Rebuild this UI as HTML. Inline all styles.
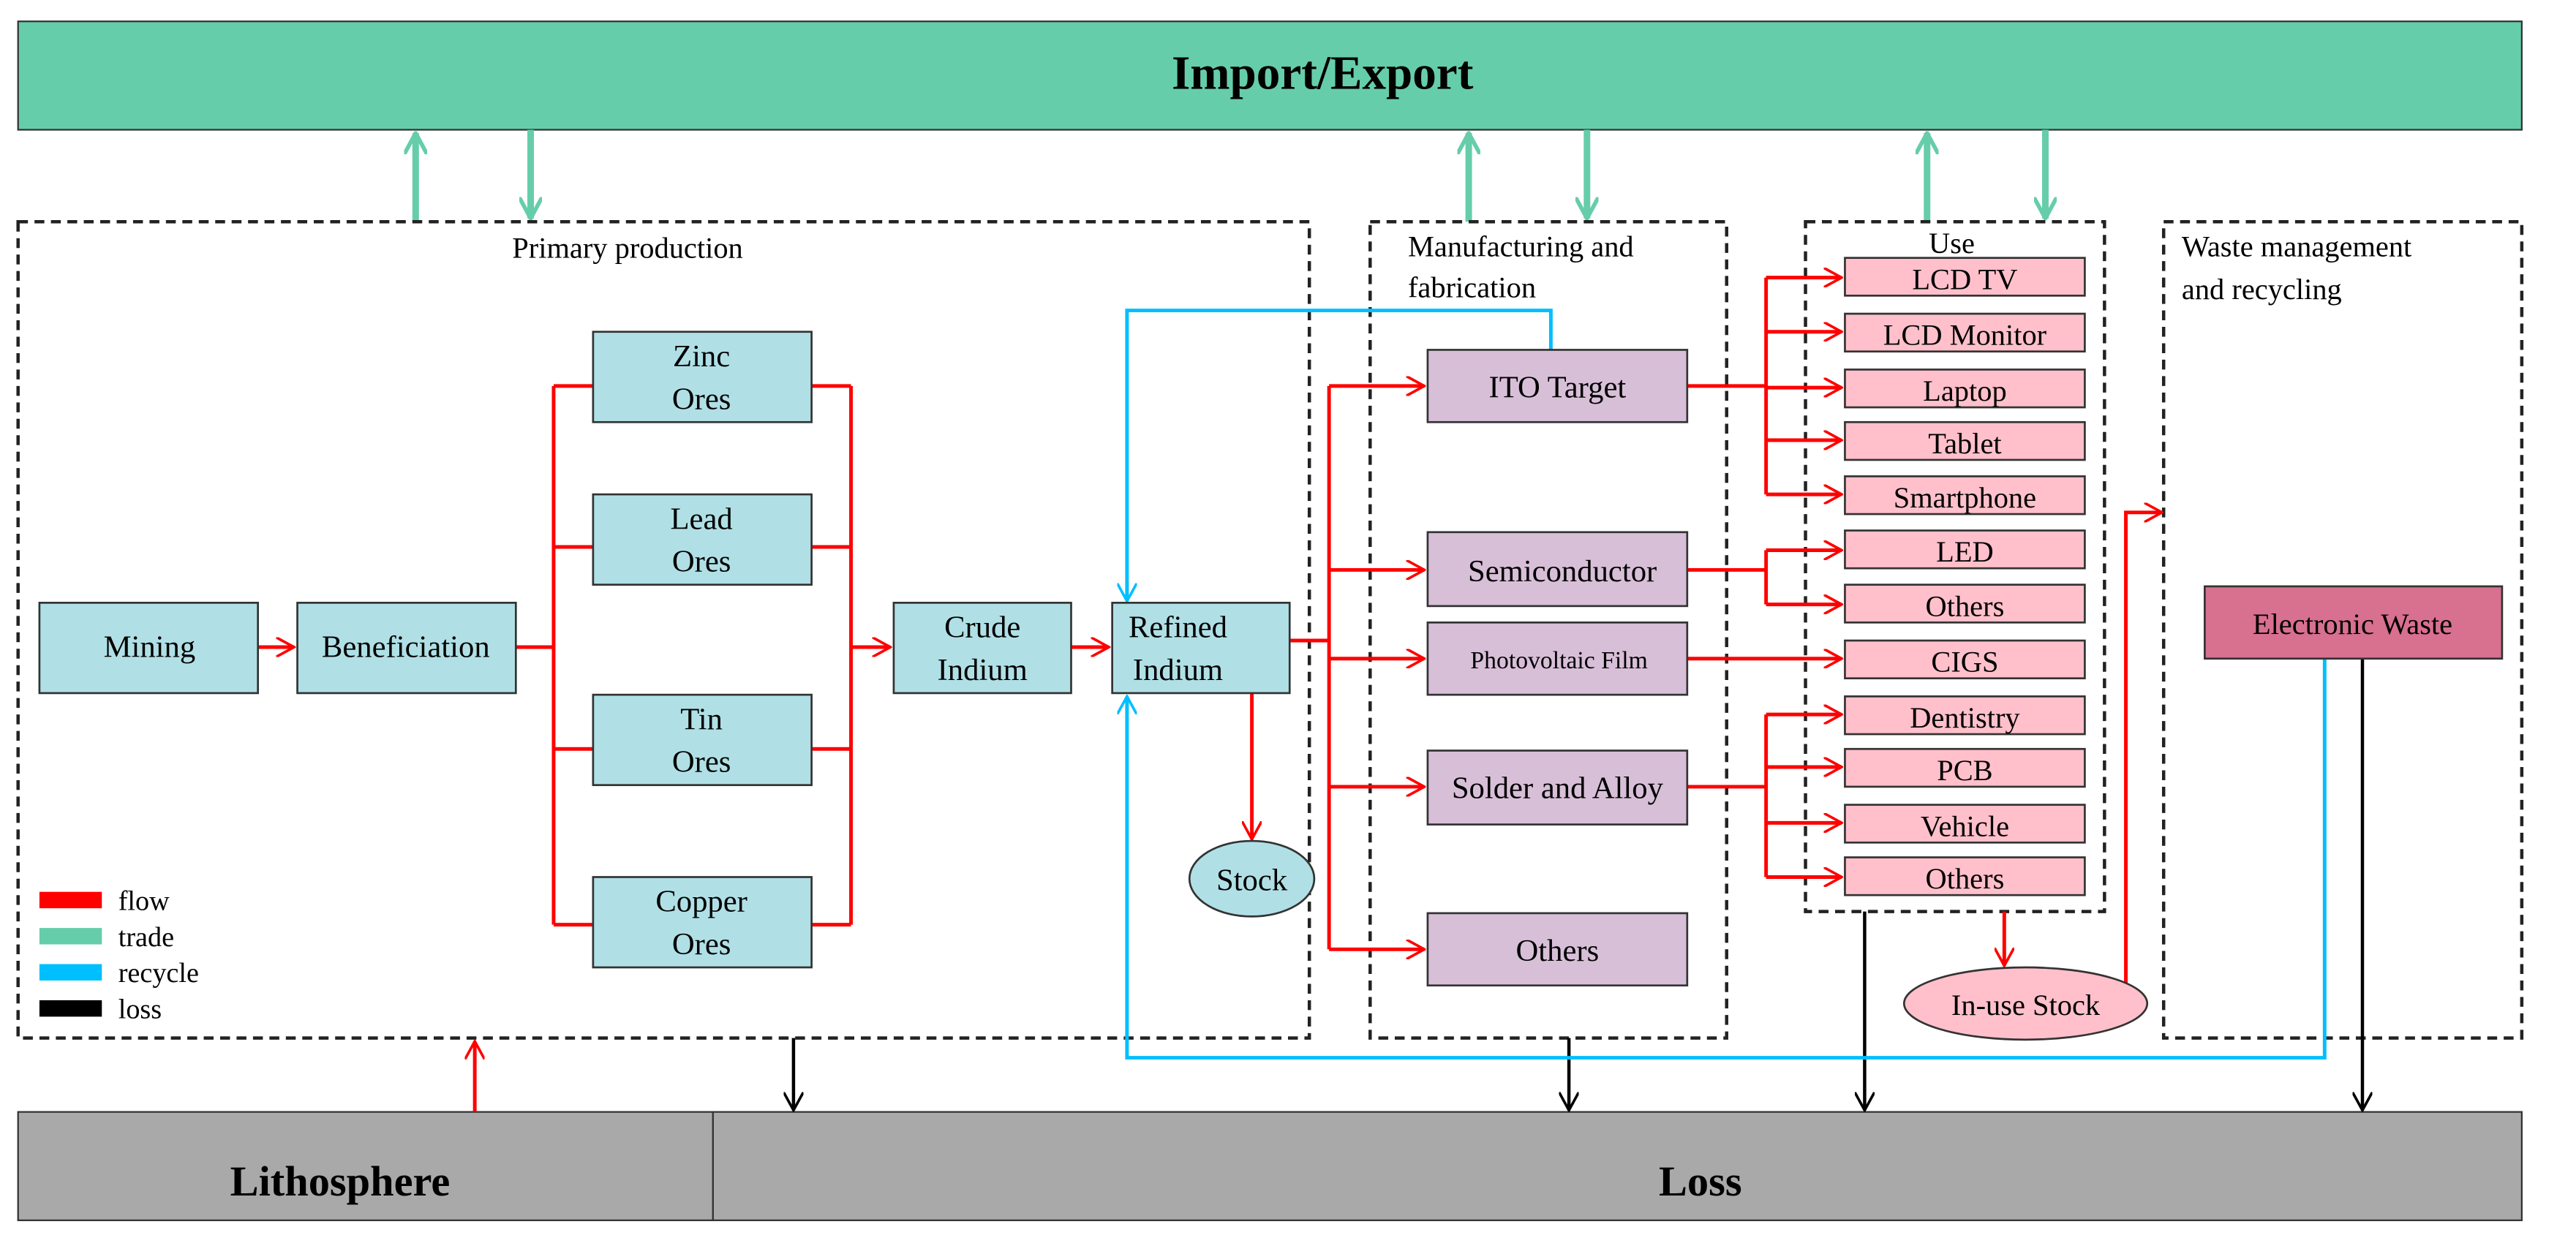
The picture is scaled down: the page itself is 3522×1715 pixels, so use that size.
<!DOCTYPE html>
<html><head><meta charset="utf-8"><style>
html,body{margin:0;padding:0;background:#fff;}
svg{display:block;}
text{font-family:"Liberation Serif",serif;}
</style></head><body>
<svg width="3522" height="1715" viewBox="0 0 1568 763.5" xmlns="http://www.w3.org/2000/svg">
<defs>
<marker id="r" markerWidth="12" markerHeight="12" refX="11" refY="6" orient="auto" markerUnits="userSpaceOnUse"><path d="M0,0 L11,6 L0,12" fill="none" stroke="#f00" stroke-width="1.6"/></marker>
<marker id="k" markerWidth="12" markerHeight="12" refX="11" refY="6" orient="auto" markerUnits="userSpaceOnUse"><path d="M0,0 L11,6 L0,12" fill="none" stroke="#000" stroke-width="1.6"/></marker>
<marker id="b" markerWidth="12" markerHeight="12" refX="11" refY="6" orient="auto" markerUnits="userSpaceOnUse"><path d="M0,0 L11,6 L0,12" fill="none" stroke="#00bfff" stroke-width="1.6"/></marker>
<marker id="g" markerWidth="14" markerHeight="14" refX="13" refY="7" orient="auto" markerUnits="userSpaceOnUse"><path d="M0,0 L13,7 L0,14" fill="none" stroke="#66cdaa" stroke-width="2.5"/></marker>
</defs>
<rect width="1568" height="764" fill="#fff"/>
<!-- Import/Export -->
<rect x="11" y="13" width="1524" height="66" fill="#66cdaa" stroke="#333" stroke-width="1"/>
<text x="805" y="54" font-size="29" font-weight="bold" text-anchor="middle">Import/Export</text>
<!-- trade arrows -->
<g stroke="#66cdaa" stroke-width="4" fill="none">
<line x1="253" y1="135" x2="253" y2="81" marker-end="url(#g)"/>
<line x1="894" y1="135" x2="894" y2="81" marker-end="url(#g)"/>
<line x1="1173" y1="135" x2="1173" y2="81" marker-end="url(#g)"/>
<line x1="323" y1="79" x2="323" y2="133" marker-end="url(#g)"/>
<line x1="966" y1="79" x2="966" y2="133" marker-end="url(#g)"/>
<line x1="1245" y1="79" x2="1245" y2="133" marker-end="url(#g)"/>
</g>
<!-- dashed boxes -->
<g fill="none" stroke="#222" stroke-width="2" stroke-dasharray="6,4">
<rect x="11" y="135" width="786" height="497"/>
<rect x="834" y="135" width="217" height="497"/>
<rect x="1099" y="135" width="182" height="420"/>
<rect x="1317" y="135" width="218" height="497"/>
</g>
<g font-size="18">
<text x="382" y="157" text-anchor="middle">Primary production</text>
<text x="857" y="156">Manufacturing and</text>
<text x="857" y="181">fabrication</text>
<text x="1188" y="154" text-anchor="middle">Use</text>
<text x="1328" y="156">Waste management</text>
<text x="1328" y="182">and recycling</text>
</g>
<!-- bottom bars -->
<rect x="11" y="677" width="423" height="66" fill="#a9a9a9" stroke="#333"/>
<rect x="434" y="677" width="1101" height="66" fill="#a9a9a9" stroke="#333"/>
<text x="207" y="728" font-size="26" font-weight="bold" text-anchor="middle">Lithosphere</text>
<text x="1035" y="728" font-size="26" font-weight="bold" text-anchor="middle">Loss</text>
<!-- red flows -->
<g stroke="#f00" stroke-width="2.2" fill="none">
<line x1="157" y1="394" x2="179" y2="394" marker-end="url(#r)"/>
<polyline points="314,394 337,394"/>
<line x1="337" y1="235" x2="337" y2="563"/>
<polyline points="337,235 361,235"/><polyline points="337,333 361,333"/><polyline points="337,456 361,456"/><polyline points="337,563 361,563"/>
<line x1="518" y1="235" x2="518" y2="563"/>
<polyline points="494,235 518,235"/><polyline points="494,333 518,333"/><polyline points="494,456 518,456"/><polyline points="494,563 518,563"/>
<line x1="518" y1="394" x2="542" y2="394" marker-end="url(#r)"/>
<line x1="652" y1="394" x2="675" y2="394" marker-end="url(#r)"/>
<polyline points="785,390 809,390"/>
<line x1="809" y1="235" x2="809" y2="578"/>
<line x1="809" y1="235" x2="867" y2="235" marker-end="url(#r)"/>
<line x1="809" y1="347" x2="867" y2="347" marker-end="url(#r)"/>
<line x1="809" y1="401" x2="867" y2="401" marker-end="url(#r)"/>
<line x1="809" y1="479" x2="867" y2="479" marker-end="url(#r)"/>
<line x1="809" y1="578" x2="867" y2="578" marker-end="url(#r)"/>
<line x1="762" y1="422" x2="762" y2="511" marker-end="url(#r)"/>
<polyline points="1027,235 1075,235"/>
<line x1="1075" y1="169" x2="1075" y2="301"/>
<line x1="1075" y1="169" x2="1121" y2="169" marker-end="url(#r)"/>
<line x1="1075" y1="202" x2="1121" y2="202" marker-end="url(#r)"/>
<line x1="1075" y1="236" x2="1121" y2="236" marker-end="url(#r)"/>
<line x1="1075" y1="268" x2="1121" y2="268" marker-end="url(#r)"/>
<line x1="1075" y1="301" x2="1121" y2="301" marker-end="url(#r)"/>
<polyline points="1027,347 1075,347"/>
<line x1="1075" y1="335" x2="1075" y2="368"/>
<line x1="1075" y1="335" x2="1121" y2="335" marker-end="url(#r)"/>
<line x1="1075" y1="368" x2="1121" y2="368" marker-end="url(#r)"/>
<line x1="1027" y1="401" x2="1121" y2="401" marker-end="url(#r)"/>
<polyline points="1027,479 1075,479"/>
<line x1="1075" y1="435" x2="1075" y2="534"/>
<line x1="1075" y1="435" x2="1121" y2="435" marker-end="url(#r)"/>
<line x1="1075" y1="467" x2="1121" y2="467" marker-end="url(#r)"/>
<line x1="1075" y1="501" x2="1121" y2="501" marker-end="url(#r)"/>
<line x1="1075" y1="534" x2="1121" y2="534" marker-end="url(#r)"/>
<line x1="1220" y1="555" x2="1220" y2="588" marker-end="url(#r)"/>
<polyline points="1294,600 1294,312 1316,312" marker-end="url(#r)"/>
<line x1="289" y1="677" x2="289" y2="634" marker-end="url(#r)"/>
</g>
<!-- black loss -->
<g stroke="#000" stroke-width="2" fill="none">
<line x1="483" y1="632" x2="483" y2="676" marker-end="url(#k)"/>
<line x1="955" y1="632" x2="955" y2="676" marker-end="url(#k)"/>
<line x1="1135" y1="555" x2="1135" y2="676" marker-end="url(#k)"/>
<line x1="1438" y1="401" x2="1438" y2="676" marker-end="url(#k)"/>
</g>
<!-- blue recycle -->
<g stroke="#00bfff" stroke-width="2.2" fill="none">
<polyline points="944,213 944,189 686,189 686,366" marker-end="url(#b)"/>
<polyline points="1415,401 1415,644 686,644 686,424" marker-end="url(#b)"/>
</g>
<!-- teal nodes -->
<g fill="#b0e0e6" stroke="#333" stroke-width="1.2">
<rect x="24" y="367" width="133" height="55"/>
<rect x="181" y="367" width="133" height="55"/>
<rect x="361" y="202" width="133" height="55"/>
<rect x="361" y="301" width="133" height="55"/>
<rect x="361" y="423" width="133" height="55"/>
<rect x="361" y="534" width="133" height="55"/>
<rect x="544" y="367" width="108" height="55"/>
<rect x="677" y="367" width="108" height="55"/>
<ellipse cx="762" cy="535" rx="38" ry="23"/>
</g>
<g font-size="19" text-anchor="middle">
<text x="91" y="400">Mining</text>
<text x="247" y="400">Beneficiation</text>
<text x="427" y="223">Zinc</text><text x="427" y="249">Ores</text>
<text x="427" y="322">Lead</text><text x="427" y="348">Ores</text>
<text x="427" y="444">Tin</text><text x="427" y="470">Ores</text>
<text x="427" y="555">Copper</text><text x="427" y="581">Ores</text>
<text x="598" y="388">Crude</text><text x="598" y="414">Indium</text>
<text x="717" y="388">Refined</text><text x="717" y="414">Indium</text>
<text x="762" y="542">Stock</text>
</g>
<!-- manufacturing nodes -->
<g fill="#d8bfd8" stroke="#333" stroke-width="1.2">
<rect x="869" y="213" width="158" height="44"/>
<rect x="869" y="324" width="158" height="45"/>
<rect x="869" y="379" width="158" height="44"/>
<rect x="869" y="457" width="158" height="45"/>
<rect x="869" y="556" width="158" height="44"/>
</g>
<g font-size="19" text-anchor="middle">
<text x="948" y="242">ITO Target</text>
<text x="951" y="354">Semiconductor</text>
<text x="949" y="407" font-size="15">Photovoltaic Film</text>
<text x="948" y="486">Solder and Alloy</text>
<text x="948" y="585">Others</text>
</g>
<!-- use nodes -->
<g fill="#ffc0cb" stroke="#333" stroke-width="1.2">
<rect x="1123" y="157" width="146" height="23"/>
<rect x="1123" y="191" width="146" height="23"/>
<rect x="1123" y="225" width="146" height="23"/>
<rect x="1123" y="257" width="146" height="23"/>
<rect x="1123" y="290" width="146" height="23"/>
<rect x="1123" y="323" width="146" height="23"/>
<rect x="1123" y="356" width="146" height="23"/>
<rect x="1123" y="390" width="146" height="23"/>
<rect x="1123" y="424" width="146" height="23"/>
<rect x="1123" y="456" width="146" height="23"/>
<rect x="1123" y="490" width="146" height="23"/>
<rect x="1123" y="522" width="146" height="23"/>
<ellipse cx="1233" cy="611" rx="74" ry="22"/>
</g>
<g font-size="18" text-anchor="middle">
<text x="1196" y="176">LCD TV</text>
<text x="1196" y="210">LCD Monitor</text>
<text x="1196" y="244">Laptop</text>
<text x="1196" y="276">Tablet</text>
<text x="1196" y="309">Smartphone</text>
<text x="1196" y="342">LED</text>
<text x="1196" y="375">Others</text>
<text x="1196" y="409">CIGS</text>
<text x="1196" y="443">Dentistry</text>
<text x="1196" y="475">PCB</text>
<text x="1196" y="509">Vehicle</text>
<text x="1196" y="541">Others</text>
<text x="1233" y="618">In-use Stock</text>
</g>
<rect x="1342" y="357" width="181" height="44" fill="#d8708f" stroke="#333" stroke-width="1.2"/>
<text x="1432" y="386" font-size="18" text-anchor="middle">Electronic Waste</text>
<!-- legend -->
<rect x="24" y="543" width="38" height="10" fill="#f00"/>
<rect x="24" y="565" width="38" height="10" fill="#66cdaa"/>
<rect x="24" y="587" width="38" height="10" fill="#00bfff"/>
<rect x="24" y="609" width="38" height="10" fill="#000"/>
<g font-size="17">
<text x="72" y="554">flow</text>
<text x="72" y="576">trade</text>
<text x="72" y="598">recycle</text>
<text x="72" y="620">loss</text>
</g>
</svg>
</body></html>
